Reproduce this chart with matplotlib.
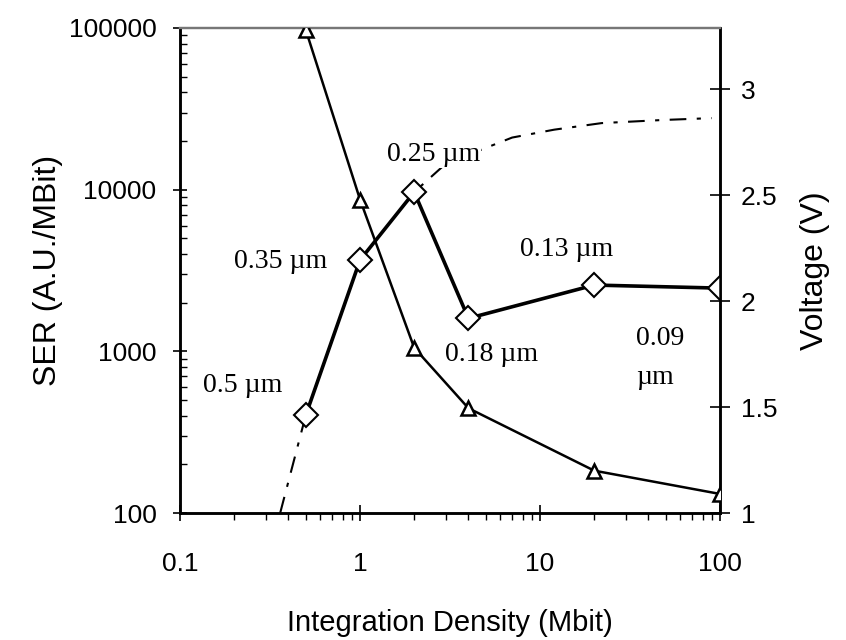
import numpy as np
import matplotlib
matplotlib.use("Agg")
import matplotlib.pyplot as plt
from matplotlib.ticker import LogLocator, NullFormatter

# integration density (Mbit) for each technology node
density = [0.5, 1, 2, 4, 20, 100]
nodes = ["0.5 \u00b5m", "0.35 \u00b5m", "0.25 \u00b5m", "0.18 \u00b5m", "0.13 \u00b5m", "0.09\n\u00b5m"]

# SER per Mbit (diamonds, left axis)
ser = [404, 3670, 9660, 1600, 2570, 2460]
# supply voltage (triangles, right axis)
voltage = [3.28, 2.48, 1.78, 1.495, 1.2, 1.09]

# dash-dot trend (left axis)
trend_x = [0.36, 0.5, 1, 2, 3.0, 7.0, 12, 22, 47.5, 90]
trend_y = [100, 404, 3670, 9660, 14500, 21000, 23500, 25800, 26950, 27700]

plt.rcParams['font.family'] = ['Liberation Sans', 'DejaVu Sans']

fig = plt.figure(figsize=(8.46, 6.4), dpi=100)
ax = fig.add_axes([0.2128, 0.1984, 0.6383, 0.7579])
ax2 = ax.twinx()

ax.set_xscale('log')
ax.set_yscale('log')
ax.set_xlim(0.1, 100)
ax.set_ylim(100, 100000)
ax2.set_ylim(1, 3.29)

ax.plot(trend_x, trend_y, color='black', lw=1.5, linestyle=(0, (8, 5, 2, 5)), zorder=2)
ax.plot(density, ser, color='black', lw=2.6, marker='D', markersize=12.5,
        markerfacecolor='white', markeredgecolor='black', markeredgewidth=1.5, zorder=4)
ax2.plot(density, voltage, color='black', lw=1.8, marker='^', markersize=10,
         markerfacecolor='white', markeredgecolor='black', markeredgewidth=1.8, zorder=3)

# feature size labels (centres in data coordinates)
label_pos = [(0.224, 619), (0.364, 3620), (2.55, 16600), (5.4, 950), (14.1, 4290)]
for (lx, ly), txt in zip(label_pos, nodes[:5]):
    ax.text(lx, ly, txt, family=['Liberation Serif', 'DejaVu Serif'], fontsize=20,
            ha='center', va='center', zorder=3,
            bbox=dict(facecolor='white', edgecolor='none', pad=1))
ax.text(34.2, 910, nodes[5], family=['Liberation Serif', 'DejaVu Serif'], fontsize=20,
        ha='left', va='center', linespacing=1.7)

ax.set_xticks([0.1, 1, 10, 100])
ax.set_xticklabels(['0.1', '1', '10', '100'])
ax.set_yticks([100, 1000, 10000, 100000])
ax.set_yticklabels(['100', '1000', '10000', '100000'])
ax.xaxis.set_minor_locator(LogLocator(base=10, subs=np.arange(2, 10)))
ax.yaxis.set_minor_locator(LogLocator(base=10, subs=np.arange(2, 10)))
ax.xaxis.set_minor_formatter(NullFormatter())
ax.yaxis.set_minor_formatter(NullFormatter())

ax2.set_yticks([1, 1.5, 2, 2.5, 3])
ax2.set_yticklabels(['1', '1.5', '2', '2.5', '3'])

ax.tick_params(axis='x', which='major', direction='inout', length=12, width=1.2,
               labelsize=19, pad=22, top=False)
ax.tick_params(axis='x', which='minor', direction='out', length=5, width=1)
ax.tick_params(axis='y', which='major', direction='inout', length=10, width=1.2,
               labelsize=19, pad=12, right=False)
ax.tick_params(axis='y', which='minor', direction='in', length=5, width=1)
ax2.tick_params(axis='y', which='major', direction='inout', length=14, width=1.2,
                labelsize=19, pad=8)

for sp in ['left', 'bottom', 'right']:
    ax.spines[sp].set_linewidth(1.8)
    ax2.spines[sp].set_linewidth(1.8)
ax.spines['top'].set_color('#777777')
ax2.spines['top'].set_color('#777777')
ax.spines['top'].set_linewidth(1.6)
ax2.spines['top'].set_linewidth(1.6)

ax.set_xlabel('Integration Density (Mbit)', fontsize=21, labelpad=24)
ax.set_ylabel('SER (A.U./MBit)', fontsize=23, labelpad=4)
ax2.set_ylabel('Voltage (V)', fontsize=23, labelpad=16)

fig.savefig('out.png', dpi=100)
